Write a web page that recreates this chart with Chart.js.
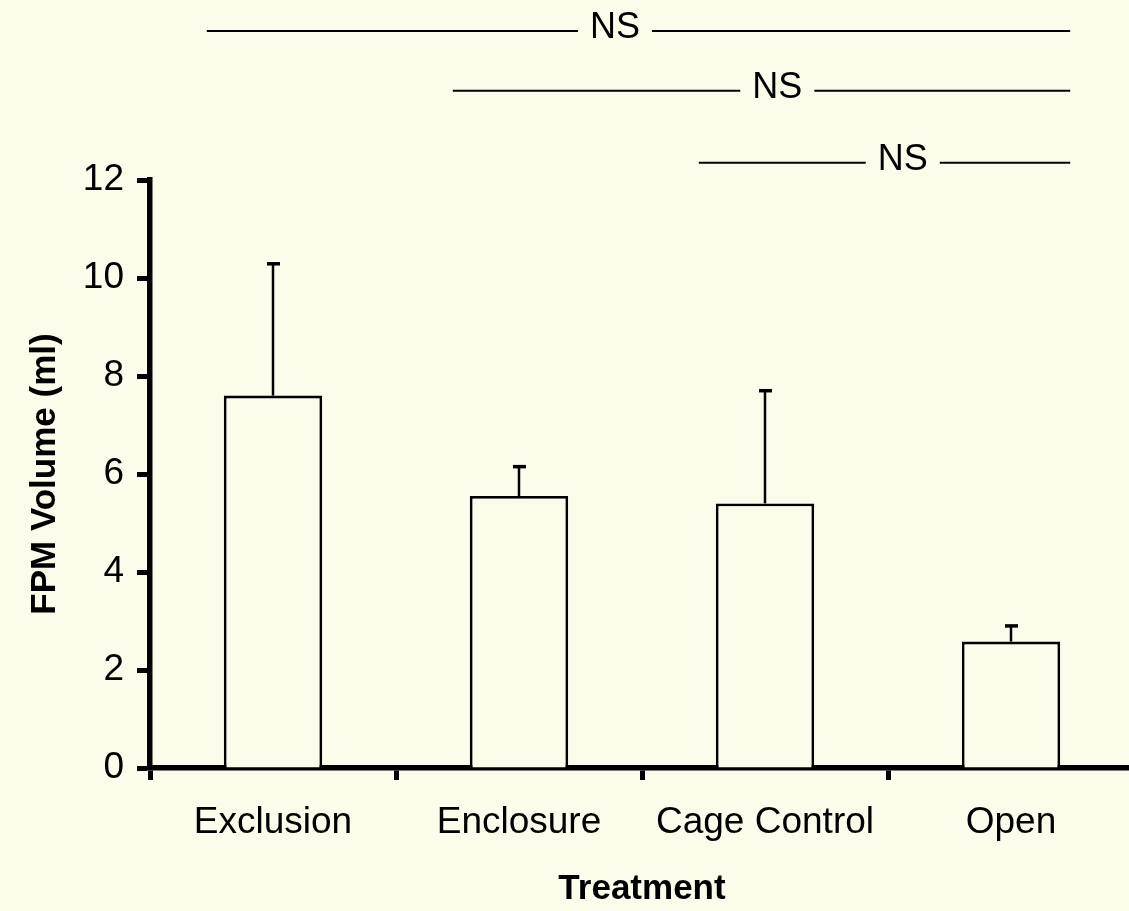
<!DOCTYPE html>
<html>
<head>
<meta charset="utf-8">
<script src="https://cdn.jsdelivr.net/npm/chart.js@4"></script>
<style>
  html, body { margin: 0; padding: 0; background: #FCFCEA; overflow: hidden; width: 1129px; height: 911px; }
  #wrap { width: 1140px; height: 911px; }
</style>
</head>
<body>
<div id="wrap"><canvas id="c" width="1140" height="911"></canvas></div>
<script>
const categories = ['Exclusion', 'Enclosure', 'Cage Control', 'Open'];
const meanVolume = [7.60, 5.55, 5.40, 2.58];
const errorUpper = [2.69, 0.60, 2.30, 0.32];
const yTicks = [0, 2, 4, 6, 8, 10, 12];
const sigLabels = ['NS', 'NS', 'NS'];
const sigFrom = [0, 1, 2];
const sigTo = [3, 3, 3];
const sigLevel = [15.04, 13.82, 12.35];

const BG = '#FCFCEA';
const FONT = "'Liberation Sans', Arial, Helvetica, sans-serif";

const bgPlugin = {
  id: 'bg',
  beforeDraw(chart) {
    const ctx = chart.ctx;
    ctx.save();
    ctx.fillStyle = BG;
    ctx.fillRect(0, 0, chart.width, chart.height);
    ctx.restore();
  }
};

const errorPlugin = {
  id: 'errbars',
  afterDatasetsDraw(chart) {
    const ctx = chart.ctx;
    const y = chart.scales.y;
    const meta = chart.getDatasetMeta(0);
    ctx.save();
    ctx.strokeStyle = '#000';
    meta.data.forEach((bar, i) => {
      const top = y.getPixelForValue(meanVolume[i] + errorUpper[i]);
      ctx.lineWidth = 2.5;
      ctx.beginPath();
      ctx.moveTo(bar.x, bar.y);
      ctx.lineTo(bar.x, top);
      ctx.stroke();
      ctx.lineWidth = 3.5;
      ctx.beginPath();
      ctx.moveTo(bar.x - 6, top);
      ctx.lineTo(bar.x + 7, top);
      ctx.stroke();
    });
    ctx.restore();
  }
};

const sigPlugin = {
  id: 'sig',
  afterDraw(chart, args, opts) {
    const ctx = chart.ctx;
    const x = chart.scales.x;
    const y = chart.scales.y;
    const meta = chart.getDatasetMeta(0);
    ctx.save();
    ctx.font = '36px ' + FONT;
    ctx.fillStyle = '#000';
    ctx.strokeStyle = '#000';
    ctx.lineWidth = 2;
    ctx.textAlign = 'center';
    ctx.textBaseline = 'middle';
    sigLabels.forEach((lab, i) => {
      const a = meta.data[sigFrom[i]];
      const b = meta.data[sigTo[i]];
      const x0 = a.x - a.width / 2 - opts.startInset;
      const x1 = b.x + b.width / 2 + opts.endOutset;
      const py = y.getPixelForValue(sigLevel[i]);
      const tx = x.getPixelForValue(opts.labelAt[i]);
      const w = ctx.measureText(lab).width;
      ctx.beginPath();
      ctx.moveTo(x0, py);
      ctx.lineTo(tx - w / 2 - opts.gap, py);
      ctx.moveTo(tx + w / 2 + opts.gap, py);
      ctx.lineTo(x1, py);
      ctx.stroke();
      ctx.fillText(lab, tx, py - 3);
    });
    ctx.restore();
  }
};

new Chart(document.getElementById('c'), {
  type: 'bar',
  data: {
    labels: categories,
    datasets: [{
      data: meanVolume,
      backgroundColor: BG,
      borderColor: '#000',
      borderWidth: 2.8,
      barPercentage: 0.4,
      categoryPercentage: 1.0
    }]
  },
  options: {
    responsive: false,
    animation: false,
    devicePixelRatio: 1,
    layout: { padding: { top: 180, right: 6, left: 0, bottom: 0 } },
    plugins: {
      legend: { display: false },
      tooltip: { enabled: false },
      sig: { startInset: 17, endOutset: 10, gap: 12, labelAt: [1.39, 2.05, 2.56] }
    },
    scales: {
      x: {
        z: 1,
        offset: true,
        afterFit(s) { s.height = 143; },
        grid: { display: true, offset: true, drawOnChartArea: false, drawTicks: true, tickLength: 12, tickWidth: 5, tickColor: '#000' },
        border: { display: true, width: 5.5, color: '#000' },
        ticks: { color: '#000', padding: 21, font: { family: FONT, size: 37 }, maxRotation: 0, autoSkip: false },
        title: { display: true, text: 'Treatment', color: '#000', font: { family: FONT, size: 35, weight: 'bold' }, padding: { top: 0, bottom: 1 } }
      },
      y: {
        min: 0,
        max: 12,
        afterFit(s) { s.width = 150; },
        afterBuildTicks(s) { s.ticks = yTicks.map(v => ({ value: v })); },
        grid: { display: true, drawOnChartArea: false, drawTicks: true, tickLength: 13, tickWidth: 5, tickColor: '#000' },
        border: { display: true, width: 5.5, color: '#000' },
        ticks: { color: '#000', padding: 13, font: { family: FONT, size: 37 } },
        title: { display: true, text: 'FPM Volume (ml)', color: '#000', font: { family: FONT, size: 35, weight: 'bold' }, padding: { top: 24, bottom: 0 } }
      }
    }
  },
  plugins: [bgPlugin, errorPlugin, sigPlugin]
});
</script>
</body>
</html>
